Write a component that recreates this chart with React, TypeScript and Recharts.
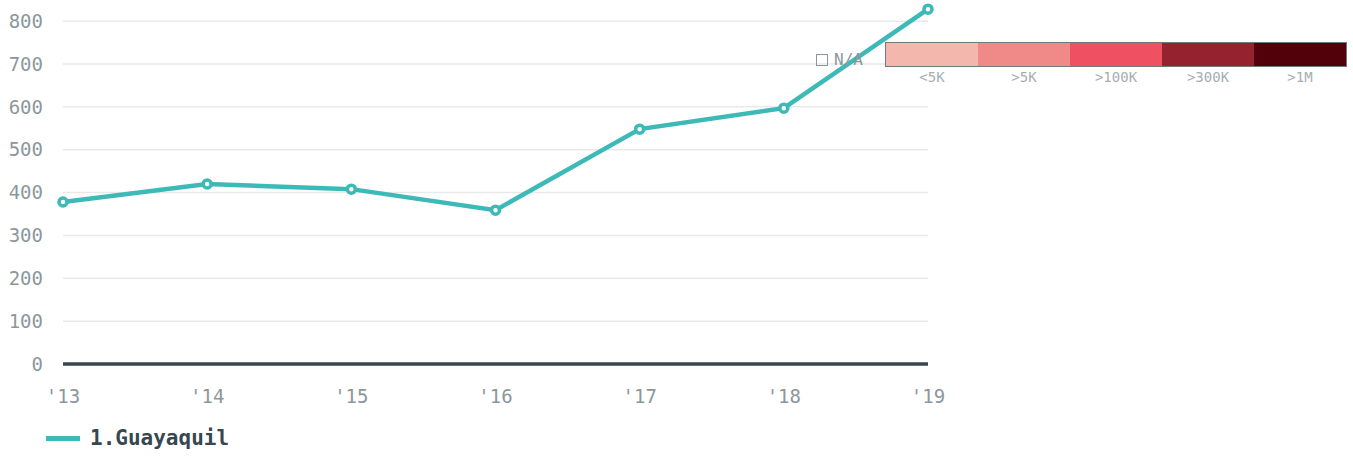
import React from 'react';
import { LineChart, Line, XAxis, YAxis, CartesianGrid, ReferenceLine } from 'recharts';

const years = ["'13", "'14", "'15", "'16", "'17", "'18", "'19"];
const guayaquil = [378, 420, 408, 359, 548, 597, 828];
const yTicks = [0, 100, 200, 300, 400, 500, 600, 700, 800];
const scaleLabels = ['<5K', '>5K', '>100K', '>300K', '>1M'];
const scaleColors = ['#f4b7ad', '#f08a88', '#ef5162', '#95222f', '#52000a'];

const data = years.map((year, i) => ({ year, value: guayaquil[i] }));

const FONT = '"DejaVu Sans Mono", monospace';
const TEAL = '#3dbab7';
const DARK = '#37474f';
const GREY = '#8c979c';

export default function App() {
  return (
    <div style={{ position: 'absolute', left: 0, top: 0, width: 1353, height: 457, fontFamily: FONT }}>
      <LineChart
        width={1353}
        height={457}
        data={data}
        margin={{ top: 4, right: 425, bottom: 0, left: 0 }}
      >
        <CartesianGrid vertical={false} horizontalValues={yTicks} stroke="#e9e9e9" strokeWidth={1.5} />
        <XAxis
          dataKey="year"
          axisLine={false}
          tickLine={false}
          tickSize={0}
          tickMargin={26}
          height={93}
          tick={{ fill: GREY, fontSize: 19, fontFamily: FONT }}
          interval={0}
        />
        <YAxis
          domain={[0, 840]}
          ticks={yTicks}
          axisLine={false}
          tickLine={false}
          tickSize={0}
          tickMargin={20}
          width={63}
          tick={{ fill: GREY, fontSize: 19, fontFamily: FONT }}
        />
        <ReferenceLine y={0} stroke={DARK} strokeWidth={3.5} />
        <Line
          dataKey="value"
          stroke={TEAL}
          strokeWidth={4.5}
          dot={{ r: 4, fill: '#fff', stroke: TEAL, strokeWidth: 3.5 }}
          activeDot={false}
          isAnimationActive={false}
        />
      </LineChart>

      {/* series legend */}
      <div style={{ position: 'absolute', left: 46, top: 426, display: 'flex', alignItems: 'center' }}>
        <div style={{ width: 34, height: 5, background: TEAL, marginRight: 10 }} />
        <span style={{ color: DARK, fontWeight: 'bold', fontSize: 21 }}>1.Guayaquil</span>
      </div>

      {/* colour scale legend */}
      <div style={{ position: 'absolute', left: 816, top: 50, display: 'flex', alignItems: 'center' }}>
        <div style={{ width: 10, height: 10, border: `1.5px solid ${GREY}` }} />
        <span style={{ color: GREY, fontSize: 16, marginLeft: 6 }}>N/A</span>
      </div>
      <div style={{ position: 'absolute', left: 885, top: 42, display: 'flex', border: '1px solid #6f7a80' }}>
        {scaleColors.map((c, i) => (
          <div key={i} style={{ width: 92, height: 23, background: c }} />
        ))}
      </div>
      <div style={{ position: 'absolute', left: 886, top: 69, display: 'flex' }}>
        {scaleLabels.map((l, i) => (
          <div key={i} style={{ width: 92, textAlign: 'center', color: '#a5aeb2', fontSize: 14 }}>{l}</div>
        ))}
      </div>
    </div>
  );
}
